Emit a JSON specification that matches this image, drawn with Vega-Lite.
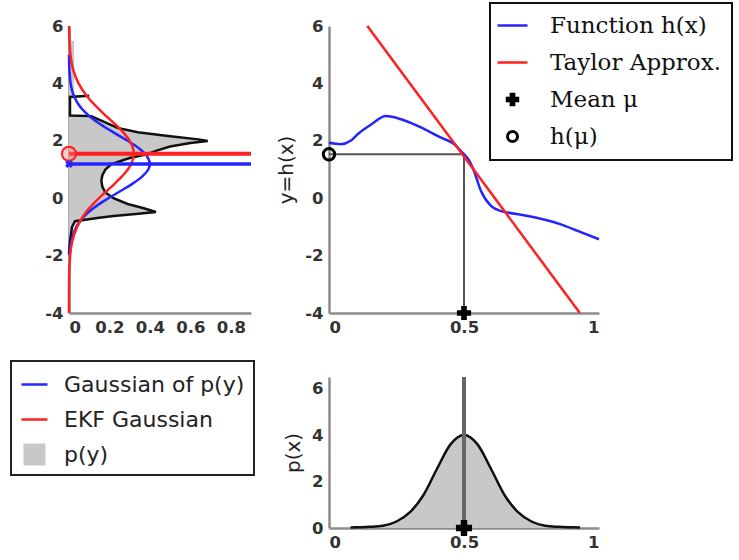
{
  "$schema": "https://vega.github.io/schema/vega-lite/v6.json",
  "padding": {"left": 10, "top": 2, "right": 0, "bottom": 0},
  "background": "white",
  "config": {
    "view": {"stroke": null},
    "axis": {
      "domainColor": "#8c8c8c", "domainWidth": 2.5, "ticks": false, "grid": false,
      "labelFont": "DejaVu Sans", "labelFontSize": 16.5, "labelFontWeight": "bold", "labelColor": "#333",
      "labelPadding": 6, "labelExpr": "replace(datum.label, '−', '-')",
      "titleFont": "DejaVu Sans", "titleFontSize": 20, "titleFontWeight": "normal", "titleColor": "#222"
    }
  },
  "resolve": {"scale": {"color": "independent"}, "legend": {"color": "independent"}},
  "datasets": {
    "parea": [
      {"y": 5.5, "d": 0.0},
      {"y": 5.47, "d": 0.025},
      {"y": 3.6, "d": 0.025},
      {"y": 3.57, "d": 0.1},
      {"y": 3.53, "d": 0.005},
      {"y": 2.88, "d": 0.005},
      {"y": 2.86, "d": 0.11},
      {"y": 2.7, "d": 0.16},
      {"y": 2.45, "d": 0.24},
      {"y": 2.3, "d": 0.34},
      {"y": 2.17, "d": 0.49},
      {"y": 2.05, "d": 0.64},
      {"y": 1.99, "d": 0.686},
      {"y": 1.92, "d": 0.6},
      {"y": 1.8, "d": 0.5},
      {"y": 1.65, "d": 0.43},
      {"y": 1.54, "d": 0.39},
      {"y": 1.4, "d": 0.3},
      {"y": 1.19, "d": 0.21},
      {"y": 1.0, "d": 0.18},
      {"y": 0.8, "d": 0.165},
      {"y": 0.6, "d": 0.16},
      {"y": 0.4, "d": 0.165},
      {"y": 0.2, "d": 0.18},
      {"y": 0.0, "d": 0.22},
      {"y": -0.2, "d": 0.29},
      {"y": -0.35, "d": 0.37},
      {"y": -0.48, "d": 0.43},
      {"y": -0.55, "d": 0.33},
      {"y": -0.62, "d": 0.22},
      {"y": -0.69, "d": 0.14},
      {"y": -0.8, "d": 0.03},
      {"y": -1.0, "d": 0.015},
      {"y": -1.5, "d": 0.005},
      {"y": -1.95, "d": 0.0}
    ],
    "gauss": [
      {"series": "Gaussian of p(y)", "y": 5.0, "d": 0.0003},
      {"series": "Gaussian of p(y)", "y": 4.5, "d": 0.0017},
      {"series": "Gaussian of p(y)", "y": 4.0, "d": 0.0079},
      {"series": "Gaussian of p(y)", "y": 3.75, "d": 0.0155},
      {"series": "Gaussian of p(y)", "y": 3.5, "d": 0.0284},
      {"series": "Gaussian of p(y)", "y": 3.25, "d": 0.0489},
      {"series": "Gaussian of p(y)", "y": 3.0, "d": 0.079},
      {"series": "Gaussian of p(y)", "y": 2.75, "d": 0.12},
      {"series": "Gaussian of p(y)", "y": 2.5, "d": 0.172},
      {"series": "Gaussian of p(y)", "y": 2.25, "d": 0.2305},
      {"series": "Gaussian of p(y)", "y": 2.0, "d": 0.29},
      {"series": "Gaussian of p(y)", "y": 1.75, "d": 0.344},
      {"series": "Gaussian of p(y)", "y": 1.5, "d": 0.382},
      {"series": "Gaussian of p(y)", "y": 1.2, "d": 0.4},
      {"series": "Gaussian of p(y)", "y": 1.0, "d": 0.392},
      {"series": "Gaussian of p(y)", "y": 0.75, "d": 0.3615},
      {"series": "Gaussian of p(y)", "y": 0.5, "d": 0.313},
      {"series": "Gaussian of p(y)", "y": 0.25, "d": 0.2547},
      {"series": "Gaussian of p(y)", "y": 0.0, "d": 0.195},
      {"series": "Gaussian of p(y)", "y": -0.25, "d": 0.1398},
      {"series": "Gaussian of p(y)", "y": -0.5, "d": 0.094},
      {"series": "Gaussian of p(y)", "y": -0.75, "d": 0.0598},
      {"series": "Gaussian of p(y)", "y": -1.0, "d": 0.036},
      {"series": "Gaussian of p(y)", "y": -1.5, "d": 0.0105},
      {"series": "Gaussian of p(y)", "y": -2.0, "d": 0.0024},
      {"series": "EKF Gaussian", "y": 6.0, "d": 0.0006},
      {"series": "EKF Gaussian", "y": 5.5, "d": 0.0022},
      {"series": "EKF Gaussian", "y": 5.0, "d": 0.0071},
      {"series": "EKF Gaussian", "y": 4.5, "d": 0.0198},
      {"series": "EKF Gaussian", "y": 4.0, "d": 0.047},
      {"series": "EKF Gaussian", "y": 3.5, "d": 0.095},
      {"series": "EKF Gaussian", "y": 3.0, "d": 0.163},
      {"series": "EKF Gaussian", "y": 2.5, "d": 0.24},
      {"series": "EKF Gaussian", "y": 2.25, "d": 0.2736},
      {"series": "EKF Gaussian", "y": 2.0, "d": 0.3},
      {"series": "EKF Gaussian", "y": 1.75, "d": 0.316},
      {"series": "EKF Gaussian", "y": 1.55, "d": 0.32},
      {"series": "EKF Gaussian", "y": 1.25, "d": 0.311},
      {"series": "EKF Gaussian", "y": 1.0, "d": 0.291},
      {"series": "EKF Gaussian", "y": 0.75, "d": 0.2607},
      {"series": "EKF Gaussian", "y": 0.5, "d": 0.225},
      {"series": "EKF Gaussian", "y": 0.25, "d": 0.1863},
      {"series": "EKF Gaussian", "y": 0.0, "d": 0.148},
      {"series": "EKF Gaussian", "y": -0.5, "d": 0.083},
      {"series": "EKF Gaussian", "y": -1.0, "d": 0.04},
      {"series": "EKF Gaussian", "y": -1.5, "d": 0.016},
      {"series": "EKF Gaussian", "y": -2.0, "d": 0.0057},
      {"series": "EKF Gaussian", "y": -2.5, "d": 0.0017},
      {"series": "EKF Gaussian", "y": -3.0, "d": 0.0004},
      {"series": "EKF Gaussian", "y": -4.0, "d": 0.0}
    ],
    "means": [
      {"series": "EKF Gaussian", "y": 1.55, "d": 0},
      {"series": "Gaussian of p(y)", "y": 1.19, "d": 0}
    ],
    "hx": [
      {"series": "Function h(x)", "x": 0.0, "y": 1.93},
      {"series": "Function h(x)", "x": 0.044, "y": 1.88},
      {"series": "Function h(x)", "x": 0.08, "y": 2.0},
      {"series": "Function h(x)", "x": 0.106, "y": 2.23},
      {"series": "Function h(x)", "x": 0.156, "y": 2.57},
      {"series": "Function h(x)", "x": 0.211, "y": 2.86},
      {"series": "Function h(x)", "x": 0.267, "y": 2.75},
      {"series": "Function h(x)", "x": 0.328, "y": 2.52},
      {"series": "Function h(x)", "x": 0.415, "y": 2.11},
      {"series": "Function h(x)", "x": 0.464, "y": 1.88},
      {"series": "Function h(x)", "x": 0.494, "y": 1.59},
      {"series": "Function h(x)", "x": 0.52, "y": 1.3},
      {"series": "Function h(x)", "x": 0.537, "y": 0.95},
      {"series": "Function h(x)", "x": 0.563, "y": 0.25},
      {"series": "Function h(x)", "x": 0.6, "y": -0.27},
      {"series": "Function h(x)", "x": 0.637, "y": -0.45},
      {"series": "Function h(x)", "x": 0.662, "y": -0.5},
      {"series": "Function h(x)", "x": 0.736, "y": -0.62},
      {"series": "Function h(x)", "x": 0.8, "y": -0.75},
      {"series": "Function h(x)", "x": 0.859, "y": -0.91},
      {"series": "Function h(x)", "x": 0.921, "y": -1.14},
      {"series": "Function h(x)", "x": 1.0, "y": -1.43},
      {"series": "Taylor Approx.", "x": 0.142, "y": 6.0},
      {"series": "Taylor Approx.", "x": 0.929, "y": -4.0}
    ],
    "guides": [
      {"x": 0.0, "y": 1.53, "x2": 0.5, "y2": 1.53},
      {"x": 0.5, "y": 1.53, "x2": 0.5, "y2": -4.0}
    ],
    "markers": [
      {"kind": "Mean μ", "x": 0.5, "y": -4.0},
      {"kind": "h(μ)", "x": 0.0, "y": 1.53}
    ],
    "px": [
      {"x": 0.08, "p": 0.02}, {"x": 0.1, "p": 0.03}, {"x": 0.15, "p": 0.05}, {"x": 0.2, "p": 0.1},
      {"x": 0.25, "p": 0.28}, {"x": 0.3, "p": 0.68}, {"x": 0.35, "p": 1.42}, {"x": 0.4, "p": 2.55},
      {"x": 0.45, "p": 3.6}, {"x": 0.5, "p": 4.0}, {"x": 0.55, "p": 3.6}, {"x": 0.6, "p": 2.55},
      {"x": 0.65, "p": 1.42}, {"x": 0.7, "p": 0.68}, {"x": 0.75, "p": 0.28}, {"x": 0.8, "p": 0.1},
      {"x": 0.85, "p": 0.05}, {"x": 0.9, "p": 0.03}, {"x": 0.93, "p": 0.02}
    ],
    "pmean": [{"x": 0.5, "p": 0}]
  },
  "bounds": "flush",
  "spacing": 78,
  "hconcat": [
    {
      "width": 182, "height": 287,
      "layer": [
        {
          "data": {"name": "parea"},
          "mark": {"type": "area", "orient": "horizontal", "color": "#c8c8c8"},
          "encoding": {
            "x": {"field": "d", "type": "quantitative", "scale": {"domain": [0, 0.9]}, "axis": {"title": null, "values": [0, 0.2, 0.4, 0.6, 0.8], "format": "~g"}},
            "y": {"field": "y", "type": "quantitative", "scale": {"domain": [-4, 6]}, "axis": {"title": null, "values": [-4, -2, 0, 2, 4, 6]}}
          }
        },
        {
          "data": {"name": "parea"},
          "transform": [{"filter": "datum.y < 3.58"}],
          "mark": {"type": "line", "strokeWidth": 2.5, "color": "#111"},
          "encoding": {
            "x": {"field": "d", "type": "quantitative"},
            "y": {"field": "y", "type": "quantitative"},
            "order": {"field": "y", "type": "quantitative"}
          }
        },
        {
          "data": {"name": "gauss"},
          "mark": {"type": "line", "strokeWidth": 2.5, "interpolate": "catmull-rom"},
          "encoding": {
            "x": {"field": "d", "type": "quantitative"},
            "y": {"field": "y", "type": "quantitative"},
            "order": {"field": "y", "type": "quantitative"},
            "color": {
              "field": "series", "type": "nominal",
              "scale": {"domain": ["Gaussian of p(y)", "EKF Gaussian", "p(y)"], "range": ["#2424ff", "#ff2020", "#c8c8c8"]},
              "legend": {
                "orient": "none", "legendX": -58, "legendY": 335, "title": null,
                "labelFont": "DejaVu Sans", "labelFontSize": 22, "labelColor": "#222", "labelLimit": 400,
                "padding": 9, "rowPadding": 9, "labelOffset": 15, "symbolSize": 676,
                "strokeColor": "#222", "fillColor": "white",
                "encode": {
                  "symbols": {"update": {
                    "shape": {"signal": "datum.value === 'p(y)' ? 'square' : 'stroke'"},
                    "size": {"signal": "datum.value === 'p(y)' ? 484 : 676"},
                    "fill": {"signal": "datum.value === 'p(y)' ? '#c8c8c8' : 'transparent'"},
                    "strokeOpacity": {"signal": "datum.value === 'p(y)' ? 0 : 1"},
                    "strokeWidth": {"value": 2.5},
                    "opacity": {"value": 1}
                  }},
                  "legend": {"update": {"strokeWidth": {"value": 2}}}
                }
              }
            }
          }
        },
        {
          "data": {"name": "means"},
          "transform": [{"filter": "datum.series === 'Gaussian of p(y)'"}],
          "mark": {"type": "rule", "color": "#2424ff", "strokeWidth": 3.5},
          "encoding": {"y": {"field": "y", "type": "quantitative"}}
        },
        {
          "data": {"name": "means"},
          "transform": [{"filter": "datum.series === 'EKF Gaussian'"}],
          "mark": {"type": "rule", "color": "#ff2020", "strokeWidth": 4},
          "encoding": {"y": {"field": "y", "type": "quantitative"}}
        },
        {
          "data": {"name": "means"},
          "transform": [{"filter": "datum.series === 'EKF Gaussian'"}],
          "mark": {"type": "point", "shape": "circle", "size": 200, "stroke": "#ff2020", "strokeWidth": 2, "fill": "#ff8080", "fillOpacity": 0.4, "opacity": 1},
          "encoding": {"x": {"field": "d", "type": "quantitative"}, "y": {"field": "y", "type": "quantitative"}}
        },
        {
          "data": {"name": "means"},
          "transform": [{"filter": "datum.series === 'Gaussian of p(y)'"}],
          "mark": {"type": "point", "shape": "cross", "angle": 45, "size": 60, "filled": true, "color": "#2424ff", "opacity": 1},
          "encoding": {"x": {"field": "d", "type": "quantitative"}, "y": {"field": "y", "type": "quantitative"}}
        }
      ]
    },
    {
      "bounds": "flush",
      "spacing": 64,
      "resolve": {"scale": {"color": "independent"}, "legend": {"color": "independent"}},
      "vconcat": [
        {
          "width": 270, "height": 287,
          "layer": [
            {
              "data": {"name": "guides"},
              "mark": {"type": "rule", "color": "#555", "strokeWidth": 2},
              "encoding": {
                "x": {"field": "x", "type": "quantitative", "scale": {"domain": [0, 1]}, "axis": {"title": null, "values": [0, 0.5, 1], "format": "~g"}},
                "y": {"field": "y", "type": "quantitative", "scale": {"domain": [-4, 6]}, "axis": {"title": "y=h(x)", "values": [-4, -2, 0, 2, 4, 6], "titlePadding": 8}},
                "x2": {"field": "x2"},
                "y2": {"field": "y2"}
              }
            },
            {
              "data": {"name": "hx"},
              "mark": {"type": "line", "strokeWidth": 2.5, "interpolate": "monotone"},
              "encoding": {
                "x": {"field": "x", "type": "quantitative"},
                "y": {"field": "y", "type": "quantitative"},
                "order": {"field": "x", "type": "quantitative"},
                "color": {
                  "field": "series", "type": "nominal",
                  "scale": {"domain": ["Function h(x)", "Taylor Approx.", "Mean μ", "h(μ)"], "range": ["#2424ff", "#ff2020", "#000000", "#000000"]},
                  "legend": {
                    "orient": "none", "legendX": 161, "legendY": -23, "title": null,
                    "labelFont": "DejaVu Serif", "labelFontSize": 23, "labelColor": "#111", "labelLimit": 400,
                    "padding": 11, "rowPadding": 13, "labelOffset": 26, "symbolSize": 900,
                    "strokeColor": "#111", "fillColor": "white",
                    "encode": {
                      "symbols": {"update": {
                        "shape": {"signal": "datum.value === 'Mean μ' ? 'cross' : (datum.value === 'h(μ)' ? 'circle' : 'stroke')"},
                        "size": {"signal": "datum.value === 'Mean μ' ? 170 : (datum.value === 'h(μ)' ? 100 : 900)"},
                        "fill": {"signal": "datum.value === 'Mean μ' ? '#000' : 'transparent'"},
                        "strokeWidth": {"signal": "datum.value === 'h(μ)' ? 3 : (datum.value === 'Mean μ' ? 0.5 : 2.5)"},
                        "opacity": {"value": 1}
                      }},
                      "legend": {"update": {"strokeWidth": {"value": 2}}}
                    }
                  }
                }
              }
            },
            {
              "data": {"name": "markers"},
              "transform": [{"filter": "datum.kind === 'h(μ)'"}],
              "mark": {"type": "point", "shape": "circle", "size": 130, "stroke": "#000", "strokeWidth": 3, "filled": false, "opacity": 1},
              "encoding": {"x": {"field": "x", "type": "quantitative"}, "y": {"field": "y", "type": "quantitative"}}
            },
            {
              "data": {"name": "markers"},
              "transform": [{"filter": "datum.kind === 'Mean μ'"}],
              "mark": {"type": "point", "shape": "cross", "size": 200, "filled": true, "color": "#000", "opacity": 1},
              "encoding": {"x": {"field": "x", "type": "quantitative"}, "y": {"field": "y", "type": "quantitative"}}
            }
          ]
        },
        {
          "width": 270, "height": 151,
          "layer": [
            {
              "data": {"name": "px"},
              "mark": {"type": "area", "color": "#c8c8c8", "interpolate": "monotone"},
              "encoding": {
                "x": {"field": "x", "type": "quantitative", "scale": {"domain": [0, 1]}, "axis": {"title": null, "values": [0, 0.5, 1], "format": "~g"}},
                "y": {"field": "p", "type": "quantitative", "scale": {"domain": [0, 6.5]}, "axis": {"title": "p(x)", "values": [0, 2, 4, 6], "titlePadding": 8}}
              }
            },
            {
              "data": {"name": "px"},
              "mark": {"type": "line", "color": "#111", "strokeWidth": 2.5, "interpolate": "monotone"},
              "encoding": {"x": {"field": "x", "type": "quantitative"}, "y": {"field": "p", "type": "quantitative"}}
            },
            {
              "data": {"name": "pmean"},
              "mark": {"type": "rule", "color": "#666", "strokeWidth": 4},
              "encoding": {"x": {"field": "x", "type": "quantitative"}}
            },
            {
              "data": {"name": "pmean"},
              "mark": {"type": "point", "shape": "cross", "size": 260, "filled": true, "color": "#000", "opacity": 1},
              "encoding": {"x": {"field": "x", "type": "quantitative"}, "y": {"field": "p", "type": "quantitative"}}
            }
          ]
        }
      ]
    }
  ]
}
